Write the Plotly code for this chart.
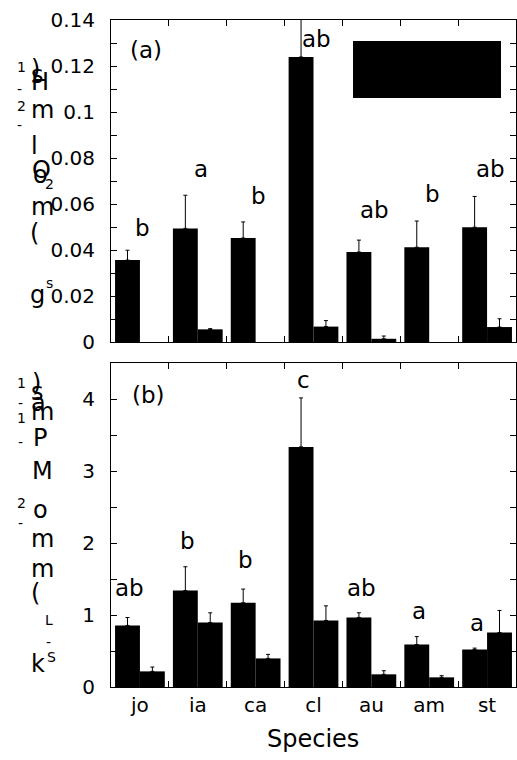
import plotly.graph_objects as go

# ---------------- data ----------------
species = ["jo", "ia", "ca", "cl", "au", "am", "st"]

gs_a = [0.0356, 0.0494, 0.0452, 0.1239, 0.0391, 0.0412, 0.0499]
gs_a_err = [0.0043, 0.0144, 0.0070, 0.0200, 0.0052, 0.0114, 0.0134]
gs_b = [None, 0.0055, None, 0.0067, 0.0014, None, 0.0065]
gs_b_err = [0, 0.0003, 0, 0.0026, 0.0012, 0, 0.0036]
gs_letters = ["b", "a", "b", "ab", "ab", "b", "ab"]
gs_letter_y = [0.0496, 0.0752, 0.0635, 0.1317, 0.0574, 0.0643, 0.0752]

ks_a = [0.855, 1.34, 1.17, 3.335, 0.966, 0.59, 0.52]
ks_a_err = [0.11, 0.33, 0.19, 0.68, 0.065, 0.11, 0.02]
ks_b = [0.217, 0.896, 0.397, 0.924, 0.176, 0.134, 0.757]
ks_b_err = [0.06, 0.134, 0.056, 0.203, 0.05, 0.023, 0.306]
ks_letters = ["ab", "b", "b", "c", "ab", "a", "a"]
ks_letter_y = [1.37, 2.03, 1.76, 4.26, 1.37, 1.05, 0.885]

# ---------------- layout constants ----------------
W, H = 517, 760
L, R, T, B = 111, 1, 20, 73
PW = W - L - R
PH = H - T - B
FONT = "DejaVu Sans"

def px2paper(px, py):
    return (px - L) / PW, (H - B - py) / PH

top_dom = [(H - B - 342) / PH, 1.0]
bot_dom = [0.0, (H - B - 363) / PH]

fig = go.Figure()

def add_bars(y1, e1, y2, e2, xa, ya):
    for y, e in ((y1, e1), (y2, e2)):
        fig.add_trace(go.Bar(
            x=species, y=y, xaxis=xa, yaxis=ya,
            marker=dict(color="black", line=dict(width=0)),
            error_y=dict(type="data", array=e, arrayminus=[0] * len(e),
                         symmetric=False, color="black", thickness=1, width=2),
            showlegend=False,
        ))

add_bars(gs_a, gs_a_err, gs_b, gs_b_err, "x", "y")
add_bars(ks_a, ks_a_err, ks_b, ks_b_err, "x2", "y2")

axis_common = dict(showline=True, linecolor="black", linewidth=1, mirror="ticks",
                   ticks="inside", ticklen=6, tickwidth=1, tickcolor="black",
                   showgrid=False, zeroline=False)

fig.update_layout(
    width=W, height=H, autosize=False,
    margin=dict(l=L, r=R, t=T, b=B, pad=0),
    paper_bgcolor="white", plot_bgcolor="white",
    barmode="group", bargap=0.14, bargroupgap=0,
    font=dict(family=FONT, color="black"),
    xaxis=dict(domain=[0, 1], anchor="y", tickson="boundaries", showticklabels=False,
               range=[-0.5, 6.5], **axis_common),
    yaxis=dict(domain=top_dom, anchor="x", range=[0, 0.14], dtick=0.02, tick0=0,
               tickfont=dict(size=20), ticklabelstandoff=11,
               minor=dict(dtick=0.01, ticks="inside", ticklen=6, tickcolor="black"),
               **axis_common),
    xaxis2=dict(domain=[0, 1], anchor="y2", tickson="boundaries",
                tickfont=dict(size=20), range=[-0.5, 6.5], **axis_common),
    yaxis2=dict(domain=bot_dom, anchor="x2", range=[0, 4.5], dtick=1, tick0=0,
                tickfont=dict(size=20), ticklabelstandoff=11,
                minor=dict(dtick=0.5, ticks="inside", ticklen=6, tickcolor="black"),
                **axis_common),
)

# legend box (rendered black)
x0, y0 = px2paper(353, 98)
x1, y1 = px2paper(501, 41)
fig.add_shape(type="rect", xref="paper", yref="paper", x0=x0, x1=x1, y0=y0, y1=y1,
              fillcolor="black", line=dict(width=0))

ann = []
# significance letters
for sp, t, y in zip(species, gs_letters, gs_letter_y):
    ann.append(dict(x=sp, y=y, xref="x", yref="y", text=t, showarrow=False,
                    xshift=3, yanchor="middle", font=dict(size=23)))
for sp, t, y in zip(species, ks_letters, ks_letter_y):
    ann.append(dict(x=sp, y=y, xref="x2", yref="y2", text=t, showarrow=False,
                    xshift=-10, yanchor="middle", font=dict(size=23)))

# panel labels
for txt, px, py in (("(a)", 146, 50), ("(b)", 148, 395)):
    xp, yp = px2paper(px, py)
    ann.append(dict(x=xp, y=yp, xref="paper", yref="paper", text=txt, showarrow=False,
                    xanchor="center", yanchor="middle", font=dict(size=23)))

# x title
xp, yp = px2paper(313, 739)
ann.append(dict(x=xp, y=yp, xref="paper", yref="paper", text="Species", showarrow=False,
                xanchor="center", yanchor="middle", font=dict(size=24)))

# y titles as rendered: glyphs stacked vertically
glyphs = [
    # panel (a): gs (mmol H2O m-2 s-1)
    ("1", 21, 67, 14), (")", 35, 69, 24), ("s", 37, 75, 24), ("H", 40, 82, 24),
    ("-", 19, 89, 14), ("2", 21, 106, 14), ("m", 42, 110, 24), ("-", 19, 125, 14),
    ("l", 34, 146, 24), ("O", 41, 170, 24), ("o", 40, 175, 24), ("2", 49, 184, 14),
    ("m", 42, 207, 24), ("(", 34, 233, 24), ("g", 37, 295, 24), ("s", 49, 283, 14),
    # panel (b)
    ("1", 21, 383, 14), (")", 36, 383, 24), ("s", 37, 392, 24), ("a", 38, 403, 24),
    ("m", 42, 412, 24), ("-", 20, 403, 14), ("1", 21, 418, 14), ("-", 20, 442, 14),
    ("P", 40, 438, 24), ("M", 42, 471, 24), ("2", 21, 503, 14), ("o", 40, 510, 24),
    ("-", 20, 523, 14), ("m", 42, 539, 24), ("m", 42, 569, 24), ("(", 35, 593, 24),
    ("L", 49, 620, 14), ("-", 48, 642, 14), ("k", 38, 664, 24), ("S", 51, 657, 14),
]
for ch, px, py, sz in glyphs:
    xp, yp = px2paper(px, py)
    ann.append(dict(x=xp, y=yp, xref="paper", yref="paper", text=ch, showarrow=False,
                    xanchor="center", yanchor="middle", font=dict(size=sz)))

fig.update_layout(annotations=ann)
fig.write_html("out.html")
